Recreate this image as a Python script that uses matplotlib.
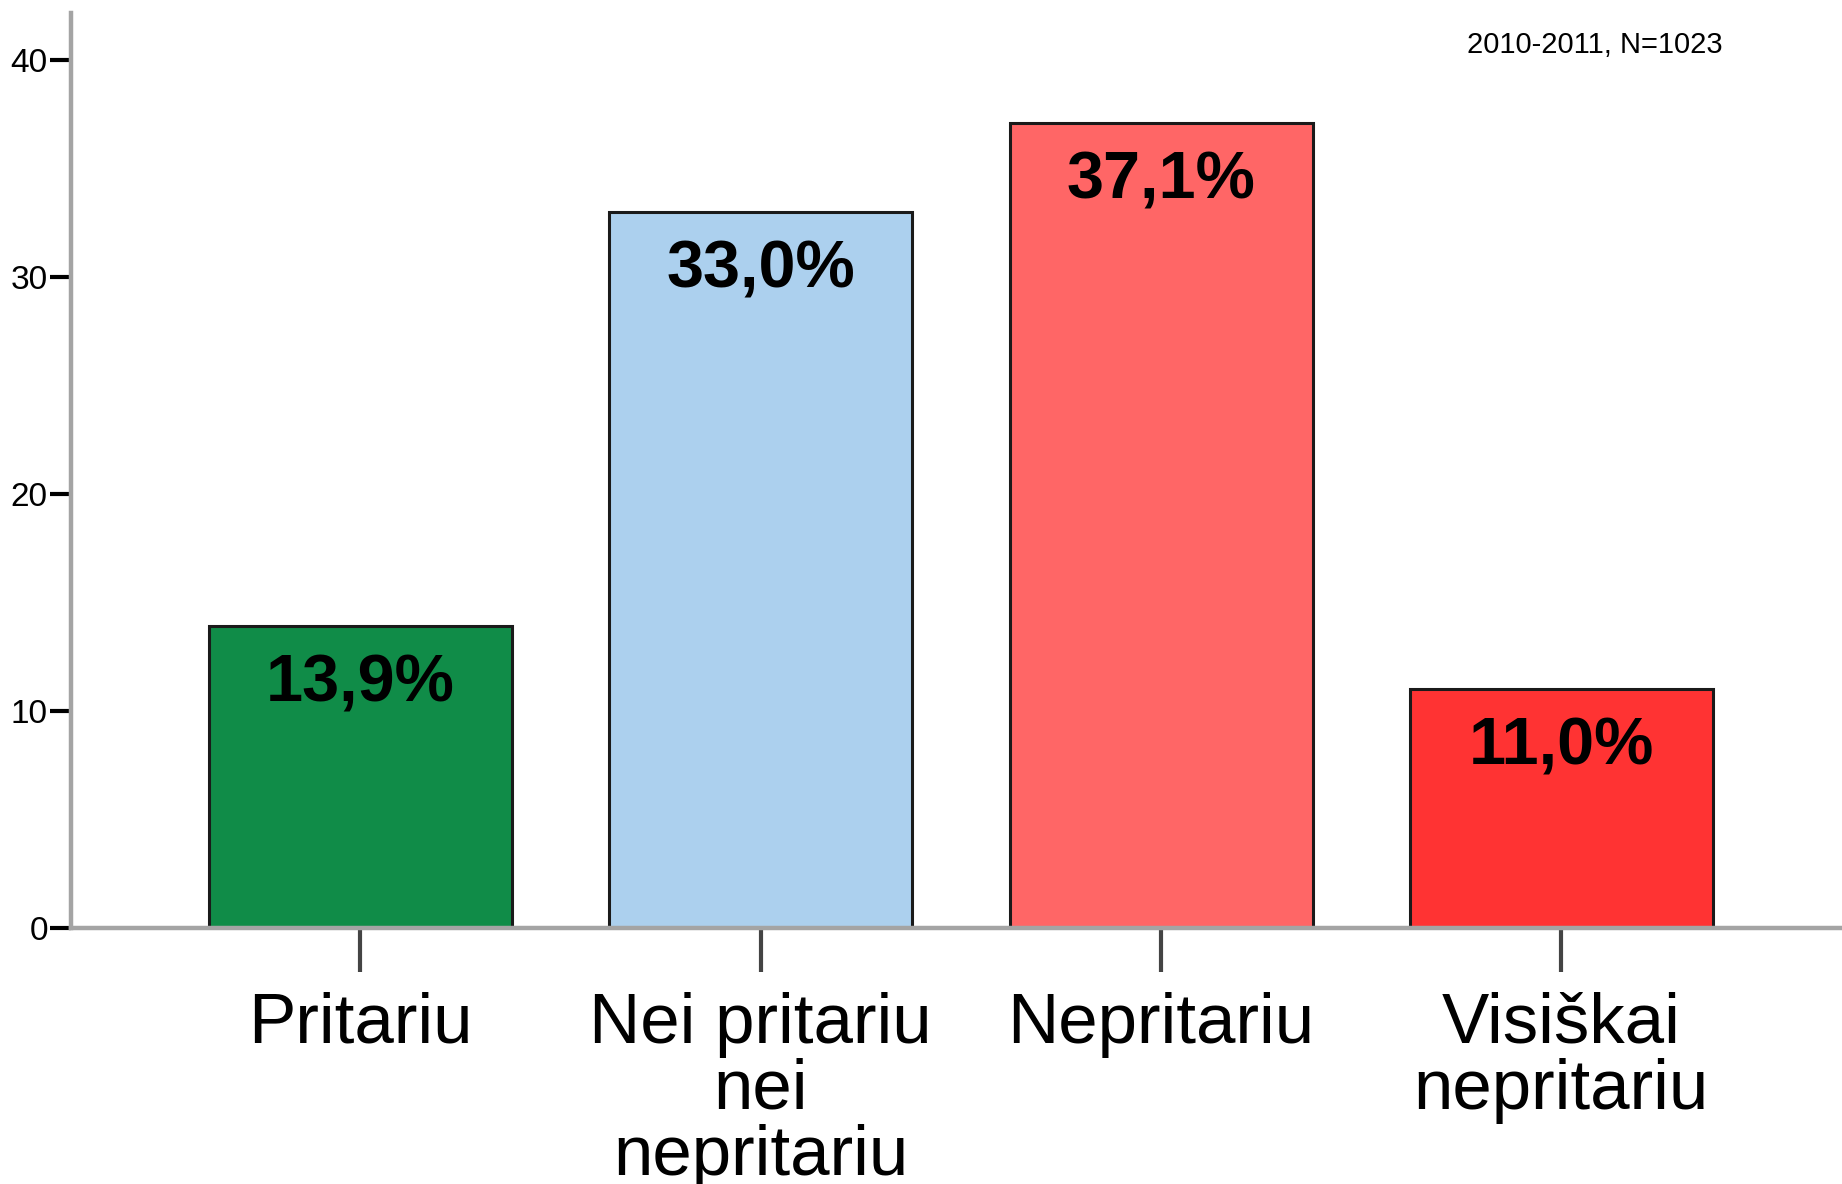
import matplotlib
matplotlib.use("Agg")
import matplotlib.pyplot as plt

# 数据
categories = ["Pritariu", "Nei pritariu\nnei\nnepritariu", "Nepritariu", "Visiškai\nnepritariu"]
values = [13.9, 33.0, 37.1, 11.0]
value_labels = ["13,9%", "33,0%", "37,1%", "11,0%"]
bar_colors = ["#108c48", "#acd0ee", "#ff6666", "#ff3333"]
y_ticks = [0, 10, 20, 30, 40]
note = "2010-2011, N=1023"

plt.rcParams['font.family'] = ['Liberation Sans', 'DejaVu Sans']

fig = plt.figure(figsize=(18.42, 11.84), dpi=100, facecolor='white')
ax = fig.add_axes([0.0388, 0.2162, 0.9612, 0.989 - 0.2162])

x = list(range(len(categories)))
ax.bar(x, values, width=0.757, color=bar_colors, edgecolor='#1a1a1a', linewidth=2.2, zorder=2)

# 柱内数值标签
for xi, v, lab in zip(x, values, value_labels):
    ax.annotate(lab, xy=(xi, v), xytext=(0, -19.5), textcoords='offset points',
                ha='center', va='top', fontsize=48, fontweight='bold', color='black', zorder=3)

ax.set_xlim(-0.722, 3.701)
ax.set_ylim(0, 42.17)

ax.set_xticks(x)
ax.set_xticklabels(categories, fontsize=51, linespacing=1.0)
ax.set_yticks(y_ticks)
ax.set_yticklabels([str(t) for t in y_ticks], fontsize=24)

ax.tick_params(axis='x', direction='out', length=32, width=3, color='#444444', pad=14)
ax.tick_params(axis='y', direction='out', length=15, width=3, color='black', pad=2)

for side in ['top', 'right']:
    ax.spines[side].set_visible(False)
for side in ['left', 'bottom']:
    ax.spines[side].set_color('#a4a4a4')
    ax.spines[side].set_linewidth(3.2)

fig.text(1723 / 1842, 1 - 53 / 1184, note, ha='right', va='baseline', fontsize=21, color='black')

fig.savefig("out.png", dpi=100, facecolor='white')
